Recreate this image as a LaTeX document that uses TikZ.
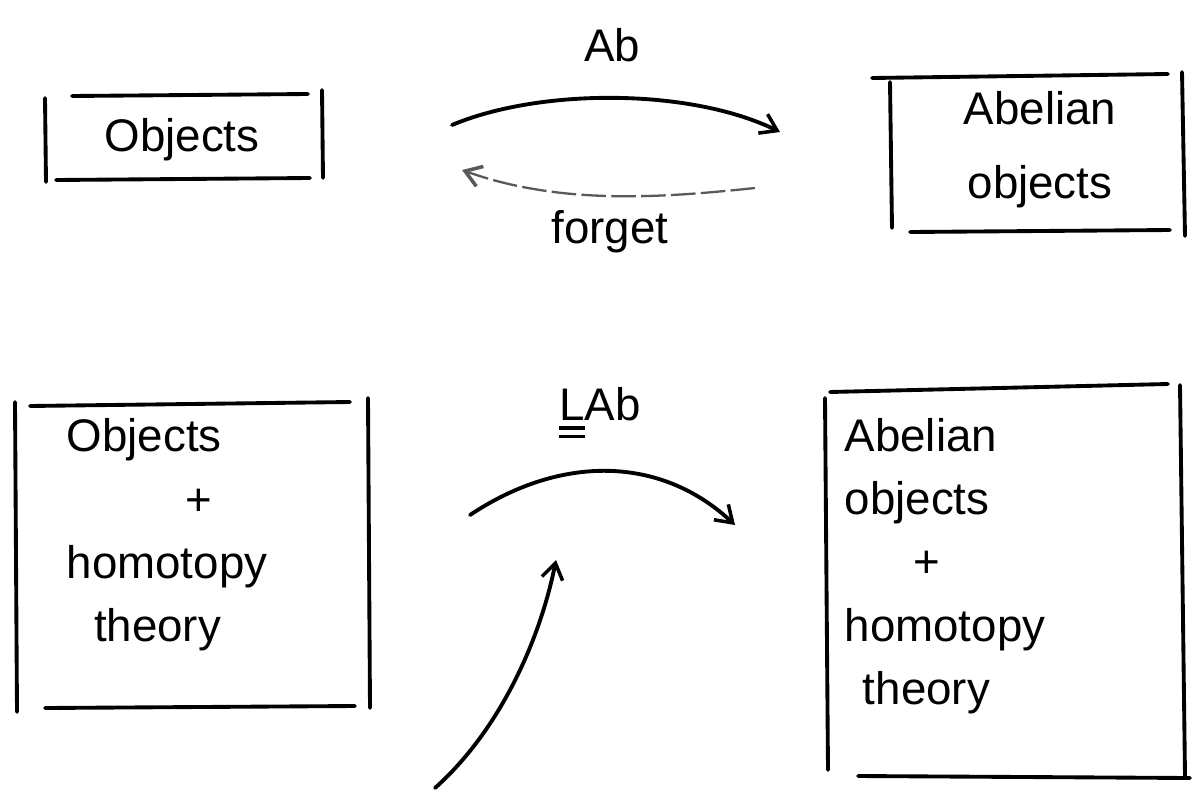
\documentclass[tikz,border=0pt]{standalone}
\usepackage{fontspec}
\setmainfont{Liberation Sans}
\usetikzlibrary{arrows.meta}
\newcommand{\dblL}{\setbox0\hbox{L}\rlap{\raisebox{-5pt}{\rule{\wd0}{1.8pt}}}\rlap{\raisebox{-10pt}{\rule{\wd0}{1.8pt}}}L}
\begin{document}
\begin{tikzpicture}[x=0.02cm,y=-0.02cm,
  stroke/.style={line width=2.2pt,line cap=round},
  lbl/.style={font=\fontsize{26}{36}\selectfont,inner sep=0pt,align=center},
  arr/.style={line width=2.2pt,line cap=round,-{Straight Barb[length=9pt,width=12pt,line width=2pt]}},
  thinarr/.style={line width=1.3pt,gray!70!black,dash pattern=on 14pt off 3pt,-{Straight Barb[length=9pt,width=12pt,line width=2pt]}}]
\useasboundingbox (0,0) rectangle (1200,798);
% box 1: Objects
\draw[stroke] (45,98) -- (46,182);
\draw[stroke] (322,90) -- (323,178);
\draw[stroke] (72,96) -- (308,94);
\draw[stroke] (56,180) -- (310,178);
\node[lbl] (obj) at (182,140) {Objects};
% box 2: Abelian objects
\draw[stroke] (890,82) -- (892,228);
\draw[stroke] (1182,72) -- (1185,236);
\draw[stroke] (872,78) -- (1168,74);
\draw[stroke] (910,232) -- (1170,230);
\node[lbl] (abobj) at (1040,150) {Abelian\\[6pt]objects};
% box 3
\draw[stroke] (15,402) -- (17,712);
\draw[stroke] (368,398) -- (370,708);
\draw[stroke] (30,406) -- (350,402);
\draw[stroke] (45,708) -- (355,706);
\node[lbl,align=left] (objh) at (167,535) {Objects\\\hspace*{2.6em}+\\homotopy\\\hspace*{0.6em}theory};
% box 4
\draw[stroke] (825,398) -- (828,770);
\draw[stroke] (1180,385) -- (1185,776);
\draw[stroke] (830,392) -- (1168,384);
\draw[stroke] (858,776) -- (1190,778);
\node[lbl,align=left] (abh) at (945,566) {Abelian\\objects\\\hspace*{1.5em}+\\homotopy\\\hspace*{0.4em}theory};
% arrows
\coordinate (a1s) at (452,125);
\coordinate (a1e) at (780,132);
\draw[arr] (a1s) .. controls (540,88) and (690,88) .. (a1e);
\node[lbl] (ab) at (612,45) {Ab};
\coordinate (a2s) at (755,188);
\coordinate (a2e) at (462,170);
\draw[thinarr] (a2s) .. controls (660,198) and (560,205) .. (a2e);
\node[lbl] (fg) at (610,232) {forget};
\coordinate (a3s) at (470,515);
\coordinate (a3e) at (735,525);
\draw[arr] (a3s) .. controls (560,455) and (660,455) .. (a3e);
\node[lbl] (lab) at (600,413) {\dblL Ab};
\coordinate (a4s) at (435,788);
\coordinate (a4e) at (556,560);
\draw[arr] (a4s) .. controls (500,730) and (540,640) .. (a4e);
\end{tikzpicture}
\end{document}
